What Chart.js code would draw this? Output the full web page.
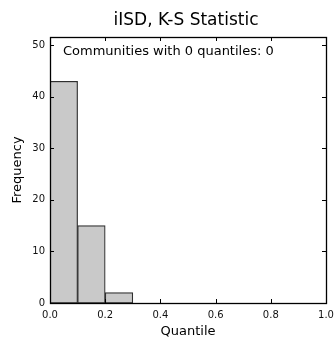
<!DOCTYPE html>
<html><head><meta charset="utf-8">
<script src="https://cdn.jsdelivr.net/npm/chart.js@4/dist/chart.umd.min.js"></script>
<style>html,body{margin:0;padding:0;background:#fff}canvas{display:block}</style>
</head><body>
<canvas id="c" width="335" height="339"></canvas>
<script>
const binCenters = [0.05, 0.15, 0.25];
const frequencies = [43, 15, 2];
const xTickValues = [0, 0.2, 0.4, 0.6, 0.8, 1.0];
const yTickValues = [0, 10, 20, 30, 40, 50];
const titleText = 'iISD, K-S Statistic';
const annotationText = 'Communities with 0 quantiles: 0';
const xLabel = 'Quantile';
const yLabel = 'Frequency';

const FONT = '"DejaVu Sans", sans-serif';

const framePlugin = {
  id: 'frame',
  afterDatasetsDraw(chart) {
    const {ctx, chartArea: a, scales} = chart;
    ctx.save();
    ctx.strokeStyle = '#000';
    ctx.lineWidth = 1;
    const L = 4;
    ctx.beginPath();
    scales.x.ticks.forEach(t => {
      const px = Math.round(scales.x.getPixelForValue(t.value)) + 0.5;
      ctx.moveTo(px, a.bottom); ctx.lineTo(px, a.bottom - L);
      ctx.moveTo(px, a.top); ctx.lineTo(px, a.top + L);
    });
    scales.y.ticks.forEach(t => {
      const py = Math.round(scales.y.getPixelForValue(t.value)) + 0.5;
      ctx.moveTo(a.left, py); ctx.lineTo(a.left + L, py);
      ctx.moveTo(a.right, py); ctx.lineTo(a.right - L, py);
    });
    ctx.stroke();
    ctx.lineWidth = 1.3;
    ctx.strokeRect(Math.round(a.left) + 0.5, Math.round(a.top) + 0.5, Math.round(a.right - a.left), Math.round(a.bottom - a.top));
    ctx.fillStyle = '#000';
    ctx.font = '13px ' + FONT;
    ctx.textBaseline = 'middle';
    ctx.textAlign = 'left';
    ctx.fillText(annotationText, a.left + 13, a.top + 15);
    ctx.font = '17px ' + FONT;
    ctx.textAlign = 'center';
    ctx.fillText(titleText, (a.left + a.right) / 2 - 2, 21);
    ctx.restore();
  }
};

new Chart(document.getElementById('c'), {
  type: 'bar',
  data: {
    datasets: [{
      data: binCenters.map((x, i) => ({x: x, y: frequencies[i]})),
      backgroundColor: '#c9c9c9',
      borderColor: '#2e2e2e',
      borderWidth: 1.2,
      borderSkipped: false,
      barPercentage: 1,
      categoryPercentage: 1
    }]
  },
  options: {
    responsive: false,
    animation: false,
    devicePixelRatio: 1,
    layout: {padding: {left: 0, right: 9, top: 37, bottom: 0}},
    plugins: {
      legend: {display: false},
      tooltip: {enabled: false},
      title: {display: false}
    },
    scales: {
      x: {
        type: 'linear', min: 0, max: 1, offset: false,
        afterBuildTicks(s) { s.ticks = xTickValues.map(v => ({value: v})); },
        afterFit(s) { s.height = 36; s.paddingLeft = 0; s.paddingRight = 0; },
        grid: {display: false, drawTicks: false, offset: false},
        border: {display: false},
        ticks: {
          color: '#111', padding: 6,
          font: {family: FONT, size: 10},
          callback: v => Number(v).toFixed(1),
          maxRotation: 0, autoSkip: false
        },
        title: {display: true, text: xLabel, color: '#000', font: {family: FONT, size: 13}, padding: {top: 0, bottom: 0}}
      },
      y: {
        type: 'linear', min: 0, max: 51.6,
        afterBuildTicks(s) { s.ticks = yTickValues.map(v => ({value: v})); },
        afterFit(s) { s.width = 50; s.paddingTop = 0; s.paddingBottom = 0; },
        grid: {display: false, drawTicks: false},
        border: {display: false},
        ticks: {
          color: '#111', padding: 5,
          font: {family: FONT, size: 10},
          autoSkip: false
        },
        title: {display: true, text: yLabel, color: '#000', font: {family: FONT, size: 13}, padding: {top: 10, bottom: 0}}
      }
    }
  },
  plugins: [framePlugin]
});
</script>
</body></html>
